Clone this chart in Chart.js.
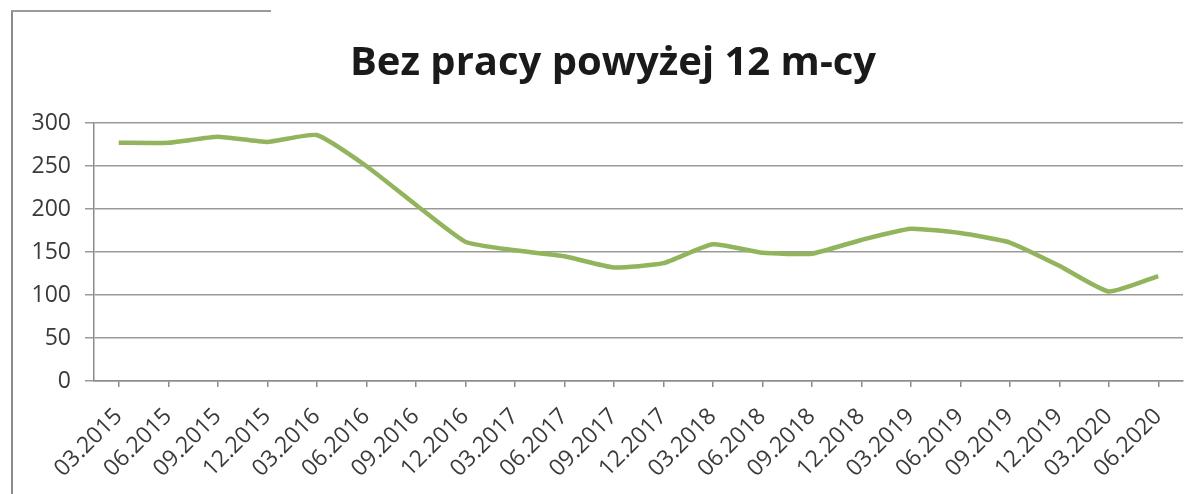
<!DOCTYPE html>
<html>
<head>
<meta charset="utf-8">
<script src="https://cdn.jsdelivr.net/npm/chart.js@4.4.1/dist/chart.umd.min.js"></script>
<style>
  html, body { margin: 0; padding: 0; background: #ffffff; }
  #wrap { position: relative; width: 1202px; height: 494px; }
  #frameL { position: absolute; left: 11px; top: 10px; width: 2px; height: 484px; background: #8a8a8a; }
  #frameT { position: absolute; left: 11px; top: 10px; width: 260px; height: 2px; background: #9a9a9a; }
  canvas { position: absolute; left: 0; top: 0; }
</style>
</head>
<body>
<div id="wrap">
  <canvas id="c" width="1202" height="494"></canvas>
  <div id="frameL"></div>
  <div id="frameT"></div>
</div>
<script>
const titleText = 'Bez pracy powyżej 12 m-cy';
const categories = ['03.2015','06.2015','09.2015','12.2015','03.2016','06.2016','09.2016','12.2016',
  '03.2017','06.2017','09.2017','12.2017','03.2018','06.2018','09.2018','12.2018',
  '03.2019','06.2019','09.2019','12.2019','03.2020','06.2020'];
const values = [277, 277, 284, 278, 286, 250, 205, 162,
  152, 145, 132, 137, 159, 149, 148, 164,
  177, 172, 161, 134, 104, 122];
const yTicks = [0, 50, 100, 150, 200, 250, 300];

// shift the title box so its centre matches the reference
const titleShift = {
  id: 'titleShift',
  afterLayout(chart) {
    if (chart.titleBlock) { chart.titleBlock.left = 43; }
  }
};

new Chart(document.getElementById('c'), {
  type: 'line',
  data: {
    labels: categories,
    datasets: [{
      data: values,
      borderColor: '#92b45c',
      borderWidth: 4.5,
      tension: 0.15,
      pointRadius: 0,
      fill: false
    }]
  },
  plugins: [titleShift],
  options: {
    responsive: false,
    animation: false,
    events: [],
    layout: { padding: { left: 0, right: 19, top: 0, bottom: 0 } },
    plugins: {
      legend: { display: false },
      tooltip: { enabled: false },
      title: {
        display: true,
        text: titleText,
        color: '#1a1a1a',
        font: { family: 'Open Sans', size: 40, weight: 'bold', lineHeight: 1.2 },
        padding: { top: 40, bottom: 35 }
      }
    },
    scales: {
      x: {
        offset: true,
        grid: { display: true, drawOnChartArea: false, drawTicks: true, tickLength: 6, color: '#8c8c8c', lineWidth: 1.5, offset: false },
        border: { display: true, color: '#8c8c8c', width: 1.5 },
        ticks: {
          color: '#3a3a3a',
          font: { family: 'Open Sans', size: 23 },
          maxRotation: 45, minRotation: 45,
          autoSkip: false,
          padding: 16
        },
        afterFit: (s) => { s.height = 494 - 381; }
      },
      y: {
        min: 0, max: 300,
        afterBuildTicks: (s) => { s.ticks = yTicks.map(v => ({ value: v })); },
        grid: { color: '#9a9a9a', lineWidth: 1.5, tickLength: 9 },
        border: { display: true, color: '#8c8c8c', width: 1.5 },
        ticks: {
          color: '#3a3a3a',
          font: { family: 'Open Sans', size: 23 },
          padding: 14
        },
        afterFit: (s) => { s.width = 94; }
      }
    }
  }
});
</script>
</body>
</html>
